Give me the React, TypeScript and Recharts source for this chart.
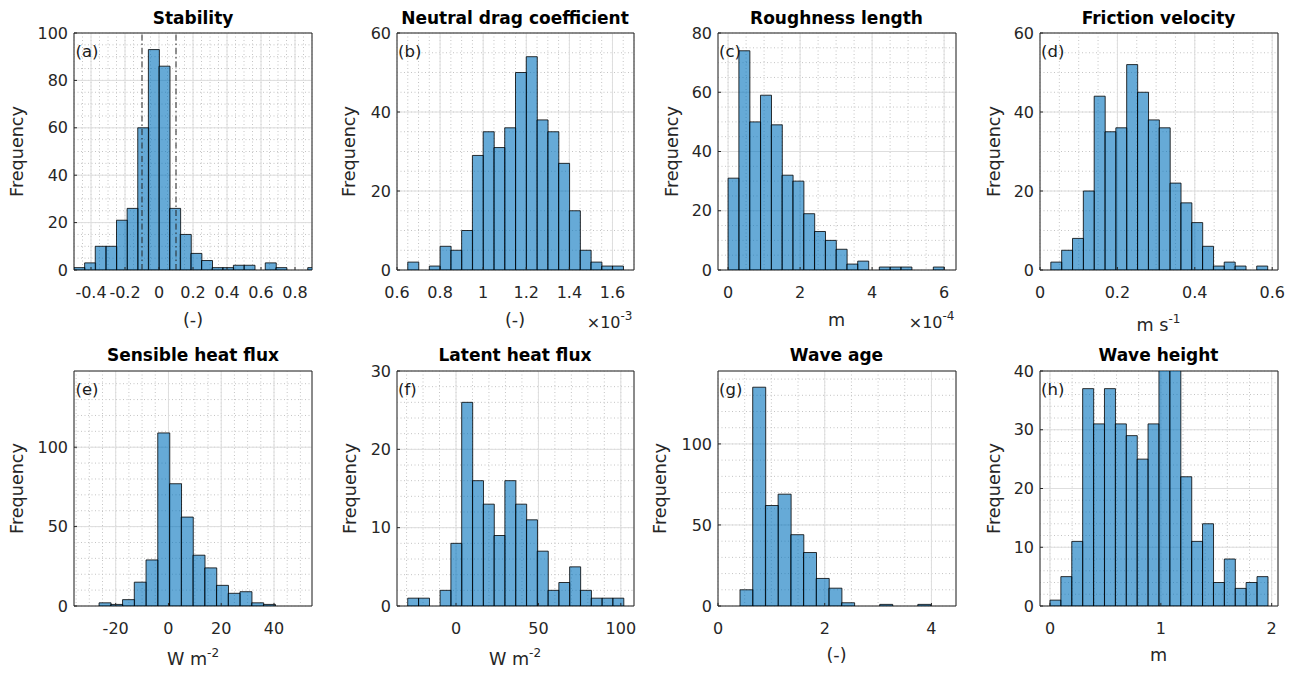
import React from "react";
import { Bar, BarChart, CartesianGrid, ReferenceArea, ReferenceLine, XAxis, YAxis } from "recharts";

/* (a) Stability */
const stabilityStart = -0.5;
const stabilityWidth = 0.0625;
const stabilityCounts = [1, 3, 10, 10, 21, 26, 60, 93, 86, 26, 15, 7, 4, 1, 1, 2, 2, 0, 3, 1, 0, 0, 1];
const stabilityXTicks = [-0.4, -0.2, 0, 0.2, 0.4, 0.6, 0.8];
const stabilityYTicks = [0, 20, 40, 60, 80, 100];
const stabilityLimits = [-0.1, 0.1];

/* (b) Neutral drag coefficient, x 10^-3 */
const dragStart = 0.65;
const dragWidth = 0.05;
const dragCounts = [2, 0, 1, 6, 5, 10, 29, 35, 31, 36, 50, 54, 38, 35, 27, 15, 5, 2, 1, 1];
const dragXTicks = [0.6, 0.8, 1, 1.2, 1.4, 1.6];
const dragYTicks = [0, 20, 40, 60];

/* (c) Roughness length, x 10^-4 m */
const roughStart = 0;
const roughWidth = 0.3;
const roughCounts = [31, 74, 50, 59, 49, 32, 30, 19, 13, 10, 7, 2, 3, 0, 1, 1, 1, 0, 0, 1];
const roughXTicks = [0, 2, 4, 6];
const roughYTicks = [0, 20, 40, 60, 80];

/* (d) Friction velocity */
const ustarStart = 0.028;
const ustarWidth = 0.028;
const ustarCounts = [2, 5, 8, 20, 44, 35, 36, 52, 45, 38, 36, 22, 17, 12, 6, 1, 2, 1, 0, 1];
const ustarXTicks = [0, 0.2, 0.4, 0.6];
const ustarYTicks = [0, 20, 40, 60];

/* (e) Sensible heat flux */
const shfStart = -26.3;
const shfWidth = 4.45;
const shfCounts = [2, 1, 4, 15, 29, 109, 77, 56, 32, 24, 13, 8, 9, 2, 1];
const shfXTicks = [-20, 0, 20, 40];
const shfYTicks = [0, 50, 100];

/* (f) Latent heat flux */
const lhfStart = -29.3;
const lhfWidth = 6.55;
const lhfCounts = [1, 1, 0, 2, 8, 26, 16, 13, 9, 16, 13, 11, 7, 2, 3, 5, 2, 1, 1, 1];
const lhfXTicks = [0, 50, 100];
const lhfYTicks = [0, 10, 20, 30];

/* (g) Wave age */
const ageStart = 0.4125;
const ageWidth = 0.238;
const ageCounts = [10, 135, 62, 69, 44, 33, 17, 11, 2, 0, 0, 1, 0, 0, 1];
const ageXTicks = [0, 2, 4];
const ageYTicks = [0, 50, 100];

/* (h) Wave height */
const hsStart = 0;
const hsWidth = 0.0983;
const hsCounts = [1, 5, 11, 37, 31, 37, 31, 29, 25, 31, 42, 41, 22, 11, 14, 4, 8, 3, 4, 5];
const hsXTicks = [0, 1, 2];
const hsYTicks = [0, 10, 20, 30, 40];

const colLeft = [74, 396.5, 717.5, 1039.5];
const colWidth = [238, 237, 238, 238];
const rowTop = [33, 371];
const rowHeight = [237, 235];

const FONT = "DejaVu Sans";
const INK = "#262626";

type Panel = {
  tag: string;
  title: string;
  start: number;
  width: number;
  counts: number[];
  xDomain: [number, number];
  yDomain: [number, number];
  xTicks: number[];
  yTicks: number[];
  xMinor: number;
  yMinor: number;
  xLabel: string;
  xSup?: string;
  exponent?: string;
  marks?: number[];
  col: number;
  row: number;
  ylab: number;
};

const panels: Panel[] = [
  { tag: "(a)", title: "Stability", start: stabilityStart, width: stabilityWidth, counts: stabilityCounts, xDomain: [-0.5, 0.9], yDomain: [0, 100], xTicks: stabilityXTicks, yTicks: stabilityYTicks, xMinor: 0.05, yMinor: 5, xLabel: "(-)", marks: stabilityLimits, col: 0, row: 0, ylab: -51 },
  { tag: "(b)", title: "Neutral drag coefficient", start: dragStart, width: dragWidth, counts: dragCounts, xDomain: [0.6, 1.7], yDomain: [0, 60], xTicks: dragXTicks, yTicks: dragYTicks, xMinor: 0.05, yMinor: 5, xLabel: "(-)", exponent: "-3", col: 1, row: 0, ylab: -42 },
  { tag: "(c)", title: "Roughness length", start: roughStart, width: roughWidth, counts: roughCounts, xDomain: [-0.28, 6.33], yDomain: [0, 80], xTicks: roughXTicks, yTicks: roughYTicks, xMinor: 0.5, yMinor: 5, xLabel: "m", exponent: "-4", col: 2, row: 0, ylab: -40 },
  { tag: "(d)", title: "Friction velocity", start: ustarStart, width: ustarWidth, counts: ustarCounts, xDomain: [0, 0.615], yDomain: [0, 60], xTicks: ustarXTicks, yTicks: ustarYTicks, xMinor: 0.05, yMinor: 5, xLabel: "m s", xSup: "-1", col: 3, row: 0, ylab: -40 },
  { tag: "(e)", title: "Sensible heat flux", start: shfStart, width: shfWidth, counts: shfCounts, xDomain: [-35.8, 54.4], yDomain: [0, 148], xTicks: shfXTicks, yTicks: shfYTicks, xMinor: 5, yMinor: 10, xLabel: "W m", xSup: "-2", col: 0, row: 1, ylab: -51 },
  { tag: "(f)", title: "Latent heat flux", start: lhfStart, width: lhfWidth, counts: lhfCounts, xDomain: [-35.8, 108], yDomain: [0, 30], xTicks: lhfXTicks, yTicks: lhfYTicks, xMinor: 10, yMinor: 2, xLabel: "W m", xSup: "-2", col: 1, row: 1, ylab: -41 },
  { tag: "(g)", title: "Wave age", start: ageStart, width: ageWidth, counts: ageCounts, xDomain: [0, 4.46], yDomain: [0, 145], xTicks: ageXTicks, yTicks: ageYTicks, xMinor: 0.5, yMinor: 10, xLabel: "(-)", col: 2, row: 1, ylab: -52 },
  { tag: "(h)", title: "Wave height", start: hsStart, width: hsWidth, counts: hsCounts, xDomain: [-0.09, 2.057], yDomain: [0, 40], xTicks: hsXTicks, yTicks: hsYTicks, xMinor: 0.2, yMinor: 2, xLabel: "m", col: 3, row: 1, ylab: -40 },
];

// grid positions between the axis limits
function gridSteps([lo, hi]: [number, number], step: number) {
  const out: number[] = [];
  for (let k = Math.ceil(lo / step - 1e-9); k * step <= hi + 1e-9; k++) out.push(+(k * step).toFixed(6));
  return out;
}

const tickStyle = { fontSize: 16, fill: INK, fontFamily: FONT };
const tickLineStyle = { stroke: INK, strokeWidth: 1 };

function Histogram({ p }: { p: Panel }) {
  const left = colLeft[p.col];
  const top = rowTop[p.row];
  const w = colWidth[p.col];
  const h = rowHeight[p.row];
  const data = p.counts.map((count, i) => ({ x: p.start + p.width * (i + 0.5), count }));
  return (
    <div style={{ position: "absolute", left: left - 70, top: top - 10 }}>
      <BarChart
        width={w + 80}
        height={h + 50}
        data={data}
        margin={{ top: 10, right: 10, bottom: 0, left: 0 }}
        barCategoryGap={0}
        barGap={0}
      >
        <CartesianGrid
          stroke="#c4c4c4"
          strokeDasharray="1 2.5"
          horizontalValues={gridSteps(p.yDomain, p.yMinor)}
          verticalValues={gridSteps(p.xDomain, p.xMinor)}
        />
        <CartesianGrid stroke="#dedede" />
        <XAxis
          type="number"
          dataKey="x"
          domain={p.xDomain}
          allowDataOverflow
          ticks={p.xTicks}
          interval={0}
          tickSize={-3}
          tickMargin={20}
          axisLine={false}
          tickLine={tickLineStyle}
          height={40}
          tick={tickStyle}
          tickFormatter={(v: number) => String(v)}
        />
        <XAxis
          xAxisId="top"
          orientation="top"
          type="number"
          dataKey="x"
          domain={p.xDomain}
          allowDataOverflow
          ticks={p.xTicks}
          interval={0}
          tickSize={-3}
          axisLine={false}
          tickLine={tickLineStyle}
          tick={false}
          height={0}
        />
        <YAxis
          type="number"
          domain={p.yDomain}
          allowDataOverflow
          ticks={p.yTicks}
          interval={0}
          width={70}
          tickSize={-3}
          tickMargin={9}
          axisLine={false}
          tickLine={tickLineStyle}
          tick={tickStyle}
        />
        <YAxis
          yAxisId="right"
          orientation="right"
          type="number"
          domain={p.yDomain}
          allowDataOverflow
          ticks={p.yTicks}
          interval={0}
          width={0}
          tickSize={-3}
          axisLine={false}
          tickLine={tickLineStyle}
          tick={false}
        />
        {p.marks?.map((m) => (
          <ReferenceLine key={m} x={m} stroke={INK} strokeWidth={1} strokeDasharray="6 3 1.5 3" />
        ))}
        <Bar dataKey="count" fill="#0072BD" fillOpacity={0.6} stroke="#000" strokeWidth={0.8} isAnimationActive={false} />
        <ReferenceArea
          x1={p.xDomain[0]}
          x2={p.xDomain[1]}
          y1={p.yDomain[0]}
          y2={p.yDomain[1]}
          fill="none"
          fillOpacity={0}
          stroke={INK}
          strokeWidth={1}
          strokeOpacity={1}
        />
      </BarChart>
    </div>
  );
}

function Annotations() {
  return (
    <svg
      width={1301}
      height={674}
      style={{ position: "absolute", left: 0, top: 0, pointerEvents: "none" }}
      fontFamily={FONT}
    >
      {panels.map((p) => {
        const left = colLeft[p.col];
        const w = colWidth[p.col];
        const top = rowTop[p.row];
        const h = rowHeight[p.row];
        const cx = left + w / 2;
        const titleY = p.row === 0 ? 23.5 : 360.5;
        const labelY = p.row === 0 ? (p.xSup ? 331 : 326) : p.xSup ? 665 : 661;
        const yx = left + p.ylab;
        const yy = top + h / 2;
        return (
          <g key={p.tag}>
            <text x={cx} y={titleY} textAnchor="middle" fontSize={17} fontWeight="bold" fill="#000">
              {p.title}
            </text>
            <text x={left + 1.5} y={top + 24} fontSize={16.5} fill="#1a1a1a">
              {p.tag}
            </text>
            <text x={yx} y={yy} transform={`rotate(-90 ${yx} ${yy})`} textAnchor="middle" fontSize={17.6} fill={INK}>
              Frequency
            </text>
            <text x={cx} y={labelY} textAnchor="middle" fontSize={17.6} fill={INK}>
              {p.xLabel}
              {p.xSup && (
                <tspan dy={-8} fontSize={12}>
                  {p.xSup}
                </tspan>
              )}
            </text>
            {p.exponent && (
              <text x={left + w - 1} y={328} textAnchor="end" fontSize={16} fill={INK}>
                ×10
                <tspan dy={-8} fontSize={12}>
                  {p.exponent}
                </tspan>
              </text>
            )}
          </g>
        );
      })}
    </svg>
  );
}

export default function App() {
  return (
    <div style={{ position: "absolute", left: 0, top: 0, width: 1301, height: 674, background: "#fff", fontFamily: FONT }}>
      {panels.map((p) => (
        <Histogram key={p.tag} p={p} />
      ))}
      <Annotations />
    </div>
  );
}
